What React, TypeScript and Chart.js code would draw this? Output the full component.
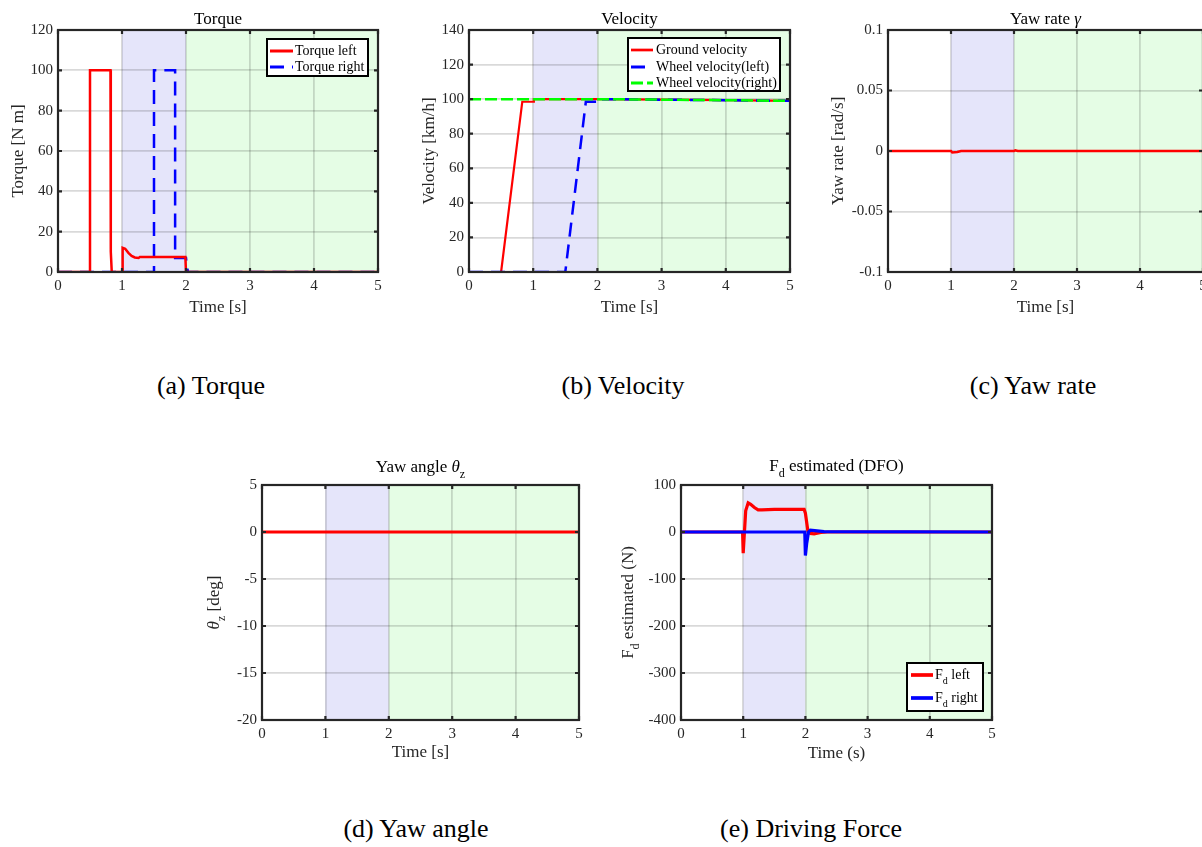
import React, { useEffect, useRef } from "react";
import { Chart, registerables } from "chart.js";
Chart.register(...registerables);

const FONT = '"Liberation Serif", "Times New Roman", serif';
const INK = "#262626";
const GRID = "rgba(0,0,0,0.15)";
const BLUE_BAND = "rgb(229,229,250)";
const GREEN_BAND = "rgb(229,253,229)";
const RED = "#ff0000";
const BLUE = "#0000ff";
const GREEN = "#00ff00";

// ---------- shared ----------
const timeTicks = [0, 1, 2, 3, 4, 5];
const bandBlue = [1, 2];
const bandGreen = [2, 5];

// ---------- (a) Torque ----------
const torqueYTicks = [0, 20, 40, 60, 80, 100, 120];
const torqueLeftT = [0, 0.5, 0.5, 0.82, 0.825, 0.84, 1.0, 1.01, 1.05, 1.1, 1.15, 1.2, 1.26, 1.28, 1.6, 1.99, 2.0, 2.5, 5];
const torqueLeftV = [0, 0, 100, 100, 10, 0, 0, 12, 11.5, 9.5, 8, 7.2, 7.0, 7.5, 7.5, 7.5, 0, 0, 0];
const torqueRightT = [0, 1.5, 1.5, 1.83, 1.83, 2.0, 2.01, 2.03, 5];
const torqueRightV = [0, 0, 100, 100, 7, 7, 4, 0, 0];

// ---------- (b) Velocity ----------
const velocityYTicks = [0, 20, 40, 60, 80, 100, 120, 140];
const groundT = [0, 0.5, 0.83, 1.0, 1.01, 2, 3, 4, 5];
const groundV = [0, 0, 98.5, 98.5, 100, 100, 99.7, 99.4, 99];
const wheelLeftT = [0, 1.5, 1.82, 2.0, 2.01, 3, 4, 5];
const wheelLeftV = [0, 0, 98.5, 98.5, 100, 99.7, 99.4, 99];
const wheelRightT = [0, 1, 2, 3, 4, 5];
const wheelRightV = [100, 100, 100, 99.7, 99.4, 99];

// ---------- (c) Yaw rate ----------
const yawRateYTicks = [-0.1, -0.05, 0, 0.05, 0.1];
const yawRateT = [0, 1.0, 1.02, 1.1, 1.16, 2.0, 2.02, 2.06, 5];
const yawRateV = [0, 0, -0.0012, -0.0008, 0, 0, 0.0006, 0, 0];

// ---------- (d) Yaw angle ----------
const yawAngleYTicks = [-20, -15, -10, -5, 0, 5];
const yawAngleT = [0, 1, 2, 3, 4, 5];
const yawAngleV = [0, 0, 0, 0, 0, 0];

// ---------- (e) Driving force ----------
const fdYTicks = [-400, -300, -200, -100, 0, 100];
const fdLeftT = [0, 0.99, 1.0, 1.04, 1.08, 1.12, 1.18, 1.24, 1.3, 1.5, 1.98, 2.0, 2.04, 2.08, 2.14, 2.25, 2.35, 5];
const fdLeftV = [0, 0, -45, 45, 62, 59, 52, 47, 47, 48, 48, 40, 2, -3, -4, -1, 0, 0];
const fdRightT = [0, 1.99, 2.0, 2.02, 2.05, 2.08, 2.15, 2.3, 5];
const fdRightV = [0, 0, -50, -25, 0, 4, 3, 1, 0];

type Seg = { t: string; sub?: boolean; it?: boolean };
type Series = { label: Seg[]; t: number[]; v: number[]; color: string; width: number; dash?: number[]; order: number };
type Legend = { box: [number, number, number, number]; rowsY: number[]; sample: [number, number]; textX: number };
type Panel = {
  box: { x: number; y: number; w: number; h: number };
  area: { L: number; T: number; R: number; B: number };
  yMin: number; yMax: number; yTicks: number[];
  title: Seg[]; titleY: number;
  xTitle: Seg[]; xTitleY: number;
  yTitle: Seg[]; yTitleX: number;
  series: Series[];
  legend?: Legend;
  caption: string; capX: number; capTop: number;
};

const panels: Panel[] = [
  {
    box: { x: 0, y: 0, w: 400, h: 320 },
    area: { L: 58, T: 30, R: 378, B: 272 },
    yMin: 0, yMax: 120, yTicks: torqueYTicks,
    title: [{ t: "Torque" }], titleY: 19.5,
    xTitle: [{ t: "Time [s]" }], xTitleY: 307.5,
    yTitle: [{ t: "Torque [N m]" }], yTitleX: 19,
    series: [
      { label: [{ t: "Torque left" }], t: torqueLeftT, v: torqueLeftV, color: RED, width: 2.5, order: 1 },
      { label: [{ t: "Torque right" }], t: torqueRightT, v: torqueRightV, color: BLUE, width: 2.5, dash: [14, 8], order: 2 },
    ],
    legend: { box: [267, 39, 101, 37], rowsY: [51, 67], sample: [270, 293], textX: 295 },
    caption: "(a) Torque", capX: 211, capTop: 371,
  },
  {
    box: { x: 400, y: 0, w: 410, h: 320 },
    area: { L: 469, T: 30, R: 790, B: 272 },
    yMin: 0, yMax: 140, yTicks: velocityYTicks,
    title: [{ t: "Velocity" }], titleY: 19.5,
    xTitle: [{ t: "Time [s]" }], xTitleY: 307.5,
    yTitle: [{ t: "Velocity [km/h]" }], yTitleX: 430,
    series: [
      { label: [{ t: "Ground velocity" }], t: groundT, v: groundV, color: RED, width: 2.2, order: 3 },
      { label: [{ t: "Wheel velocity(left)" }], t: wheelLeftT, v: wheelLeftV, color: BLUE, width: 2.5, dash: [14, 8], order: 2 },
      { label: [{ t: "Wheel velocity(right)" }], t: wheelRightT, v: wheelRightV, color: GREEN, width: 2.5, dash: [12, 4], order: 1 },
    ],
    legend: { box: [628, 38, 152, 53], rowsY: [50, 67, 83], sample: [631, 653], textX: 656 },
    caption: "(b) Velocity", capX: 623, capTop: 371,
  },
  {
    box: { x: 800, y: 0, w: 420, h: 320 },
    area: { L: 888, T: 30, R: 1203, B: 272 },
    yMin: -0.1, yMax: 0.1, yTicks: yawRateYTicks,
    title: [{ t: "Yaw rate " }, { t: "γ", it: true }], titleY: 19.5,
    xTitle: [{ t: "Time [s]" }], xTitleY: 307.5,
    yTitle: [{ t: "Yaw rate [rad/s]" }], yTitleX: 839,
    series: [
      { label: [{ t: "Yaw rate" }], t: yawRateT, v: yawRateV, color: RED, width: 2.5, order: 1 },
    ],
    caption: "(c) Yaw rate", capX: 1033, capTop: 371,
  },
  {
    box: { x: 190, y: 450, w: 410, h: 320 },
    area: { L: 262, T: 485, R: 579, B: 720 },
    yMin: -20, yMax: 5, yTicks: yawAngleYTicks,
    title: [{ t: "Yaw angle " }, { t: "θ", it: true }, { t: "z", sub: true }], titleY: 467.5,
    xTitle: [{ t: "Time [s]" }], xTitleY: 753,
    yTitle: [{ t: "θ", it: true }, { t: "z", sub: true }, { t: " [deg]" }], yTitleX: 215,
    series: [
      { label: [{ t: "Yaw angle" }], t: yawAngleT, v: yawAngleV, color: RED, width: 3, order: 1 },
    ],
    caption: "(d) Yaw angle", capX: 416, capTop: 814,
  },
  {
    box: { x: 600, y: 450, w: 410, h: 320 },
    area: { L: 681, T: 485, R: 992, B: 720 },
    yMin: -400, yMax: 100, yTicks: fdYTicks,
    title: [{ t: "F" }, { t: "d", sub: true }, { t: " estimated (DFO)" }], titleY: 466.5,
    xTitle: [{ t: "Time (s)" }], xTitleY: 754,
    yTitle: [{ t: "F" }, { t: "d", sub: true }, { t: " estimated (N)" }], yTitleX: 629,
    series: [
      { label: [{ t: "F" }, { t: "d", sub: true }, { t: " left" }], t: fdLeftT, v: fdLeftV, color: RED, width: 3.2, order: 2 },
      { label: [{ t: "F" }, { t: "d", sub: true }, { t: " right" }], t: fdRightT, v: fdRightV, color: BLUE, width: 3.2, order: 1 },
    ],
    legend: { box: [907, 663, 76, 48], rowsY: [675, 698], sample: [911, 933], textX: 935 },
    caption: "(e) Driving Force", capX: 811, capTop: 814,
  },
];

function drawRich(ctx: CanvasRenderingContext2D, segs: Seg[], x: number, y: number, size: number, align: "center" | "left") {
  const fonts = segs.map((s) => `${s.it ? "italic " : ""}${s.sub ? Math.round(size * 0.72) : size}px ${FONT}`);
  const widths = segs.map((s, i) => {
    ctx.font = fonts[i];
    return ctx.measureText(s.t).width;
  });
  const total = widths.reduce((a, b) => a + b, 0);
  let cx = align === "center" ? x - total / 2 : x;
  ctx.textBaseline = "middle";
  ctx.textAlign = "left";
  segs.forEach((s, i) => {
    ctx.font = fonts[i];
    ctx.fillText(s.t, cx, y + (s.sub ? size * 0.42 : 0));
    cx += widths[i];
  });
}

function fmt(v: number | string) {
  const r = Math.round(Number(v) * 1000) / 1000;
  return String(r === 0 ? 0 : r);
}

function makeDecor(p: Panel) {
  return {
    id: "decor",
    beforeDraw(chart: any) {
      const { ctx, chartArea: a, scales } = chart;
      const x = scales.x;
      ctx.save();
      const b1 = x.getPixelForValue(bandBlue[0]);
      const b2 = x.getPixelForValue(bandBlue[1]);
      const g1 = x.getPixelForValue(bandGreen[0]);
      const g2 = x.getPixelForValue(bandGreen[1]);
      ctx.fillStyle = BLUE_BAND;
      ctx.fillRect(b1, a.top, b2 - b1, a.bottom - a.top);
      ctx.fillStyle = GREEN_BAND;
      ctx.fillRect(g1, a.top, g2 - g1, a.bottom - a.top);
      ctx.restore();
    },
    afterDraw(chart: any) {
      const { ctx, chartArea: a, scales } = chart;
      const ox = p.box.x;
      const oy = p.box.y;
      ctx.save();
      // frame
      ctx.strokeStyle = INK;
      ctx.lineWidth = 2.2;
      ctx.setLineDash([]);
      ctx.strokeRect(a.left, a.top, a.right - a.left, a.bottom - a.top);
      // inward tick marks
      ctx.beginPath();
      timeTicks.forEach((t) => {
        const px = scales.x.getPixelForValue(t);
        ctx.moveTo(px, a.bottom);
        ctx.lineTo(px, a.bottom - 4);
        ctx.moveTo(px, a.top);
        ctx.lineTo(px, a.top + 4);
      });
      p.yTicks.forEach((t) => {
        const py = scales.y.getPixelForValue(t);
        ctx.moveTo(a.left, py);
        ctx.lineTo(a.left + 4, py);
        ctx.moveTo(a.right, py);
        ctx.lineTo(a.right - 4, py);
      });
      ctx.stroke();
      // titles
      ctx.fillStyle = "#000";
      drawRich(ctx, p.title, (a.left + a.right) / 2, p.titleY - oy, 17, "center");
      ctx.fillStyle = INK;
      drawRich(ctx, p.xTitle, (a.left + a.right) / 2, p.xTitleY - oy, 17, "center");
      ctx.save();
      ctx.translate(p.yTitleX - ox, (a.top + a.bottom) / 2);
      ctx.rotate(-Math.PI / 2);
      drawRich(ctx, p.yTitle, 0, 0, 17, "center");
      ctx.restore();
      // legend
      if (p.legend) {
        const lg = p.legend;
        const [bx, by, bw, bh] = lg.box;
        ctx.fillStyle = "#fff";
        ctx.fillRect(bx - ox, by - oy, bw, bh);
        ctx.strokeStyle = "#000";
        ctx.lineWidth = 2;
        ctx.strokeRect(bx - ox, by - oy, bw, bh);
        p.series.forEach((s, i) => {
          const ry = lg.rowsY[i] - oy;
          ctx.strokeStyle = s.color;
          ctx.lineWidth = s.width + 0.5;
          ctx.setLineDash(s.dash || []);
          ctx.beginPath();
          ctx.moveTo(lg.sample[0] - ox, ry);
          ctx.lineTo(lg.sample[1] - ox, ry);
          ctx.stroke();
          ctx.setLineDash([]);
          ctx.fillStyle = "#000";
          drawRich(ctx, s.label, lg.textX - ox, ry, 14, "left");
        });
      }
      ctx.restore();
    },
  };
}

function PanelChart({ p }: { p: Panel }) {
  const ref = useRef<HTMLCanvasElement>(null);
  useEffect(() => {
    const tickFont = { family: FONT, size: 15 };
    const chart = new Chart(ref.current as HTMLCanvasElement, {
      type: "line",
      data: {
        datasets: p.series.map((s) => ({
          label: s.label.map((g) => g.t).join(""),
          data: s.t.map((t, i) => ({ x: t, y: s.v[i] })),
          borderColor: s.color,
          backgroundColor: s.color,
          borderWidth: s.width,
          borderDash: s.dash || [],
          pointRadius: 0,
          tension: 0,
          fill: false,
          order: s.order,
        })),
      },
      options: {
        responsive: false,
        animation: false,
        events: [],
        layout: {
          padding: {
            left: 0,
            bottom: 0,
            top: p.area.T - p.box.y,
            right: p.box.x + p.box.w - p.area.R,
          },
        },
        plugins: { legend: { display: false }, tooltip: { enabled: false }, title: { display: false } },
        scales: {
          x: {
            type: "linear",
            min: 0,
            max: 5,
            afterBuildTicks: (s: any) => {
              s.ticks = timeTicks.map((v) => ({ value: v }));
            },
            afterFit: (s: any) => {
              s.height = p.box.y + p.box.h - p.area.B;
            },
            ticks: { font: tickFont, color: INK, padding: 5, maxRotation: 0, callback: (v: any) => fmt(v) },
            grid: { color: GRID, lineWidth: 1.8, drawTicks: false },
            border: { display: false },
          },
          y: {
            type: "linear",
            min: p.yMin,
            max: p.yMax,
            afterBuildTicks: (s: any) => {
              s.ticks = p.yTicks.map((v) => ({ value: v }));
            },
            afterFit: (s: any) => {
              s.width = p.area.L - p.box.x;
            },
            ticks: { font: tickFont, color: INK, padding: 5, callback: (v: any) => fmt(v) },
            grid: { color: GRID, lineWidth: 1.8, drawTicks: false },
            border: { display: false },
          },
        },
      } as any,
      plugins: [makeDecor(p)],
    });
    return () => chart.destroy();
  }, [p]);
  return (
    <canvas
      ref={ref}
      width={p.box.w}
      height={p.box.h}
      style={{ position: "absolute", left: p.box.x, top: p.box.y, width: p.box.w, height: p.box.h }}
    />
  );
}

export default function App() {
  return (
    <div style={{ position: "fixed", left: 0, top: 0, width: 1202, height: 847, overflow: "hidden", background: "#fff" }}>
      {panels.map((p, i) => (
        <PanelChart key={i} p={p} />
      ))}
      {panels.map((p, i) => (
        <div
          key={"c" + i}
          style={{
            position: "absolute",
            left: p.capX - 150,
            width: 300,
            top: p.capTop,
            height: 30,
            lineHeight: "30px",
            fontSize: 26,
            fontFamily: FONT,
            color: "#000",
            textAlign: "center",
            whiteSpace: "nowrap",
          }}
        >
          {p.caption}
        </div>
      ))}
    </div>
  );
}
